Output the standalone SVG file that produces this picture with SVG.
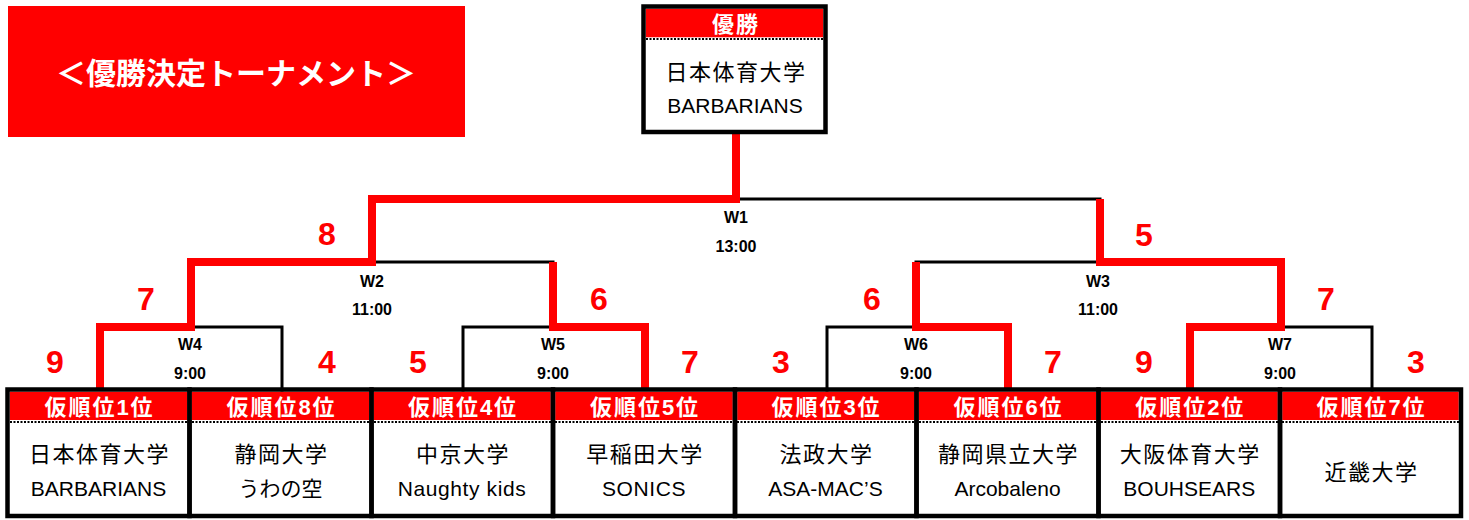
<svg xmlns="http://www.w3.org/2000/svg" width="1469" height="520" viewBox="0 0 1469 520">
<style>
.bg{fill:#ffffff}
.box{fill:none;stroke:#000;stroke-width:4.5}
.hdr{fill:#ff0000}
.dot{stroke:#000;stroke-width:2;stroke-dasharray:2 1.5;fill:none}
.blk{fill:none;stroke:#000;stroke-width:3;stroke-linecap:square}
.red{fill:none;stroke:#ff0000;stroke-width:8;stroke-linejoin:miter;stroke-linecap:butt}
.ht{font-family:"Liberation Sans","Noto Sans CJK JP",sans-serif;font-weight:bold;font-size:22px;fill:#fff;text-anchor:middle;letter-spacing:2px}
.n1{font-family:"Liberation Sans","Noto Sans CJK JP",sans-serif;font-size:22px;fill:#000;text-anchor:middle;letter-spacing:1.5px}
.n2{font-family:"Liberation Sans","Noto Sans CJK JP",sans-serif;font-size:21px;fill:#000;text-anchor:middle}
.wl{font-family:"Liberation Sans","Noto Sans CJK JP",sans-serif;font-weight:bold;font-size:16px;fill:#000;text-anchor:middle}
.sc{font-family:"Liberation Sans",sans-serif;font-weight:bold;font-size:32px;fill:#ff0000;text-anchor:middle}
.title{font-family:"Liberation Sans","Noto Sans CJK JP",sans-serif;font-weight:bold;font-size:30px;fill:#fff;text-anchor:middle}
</style>
<rect class="bg" x="0" y="0" width="1469" height="520"/>

<g id="title">
<rect x="8" y="6" width="457" height="131" fill="#ff0000"/>
<text class="title" x="236" y="84">＜優勝決定トーナメント＞</text>
</g>

<g id="connectors">
<path class="blk" d="M191,327 H282 V390"/>
<path class="blk" d="M372,262 H553"/>
<path class="blk" d="M463,390 V327 H553"/>
<path class="blk" d="M736,199 H1100"/>
<path class="blk" d="M827,390 V327 H916"/>
<path class="blk" d="M916,262 H1100"/>
<path class="blk" d="M1281,327 H1372 V390"/>
<path class="red" d="M100,390 V327 H191 V262 H372 V199 H736 V134"/>
<path class="red" d="M645,390 V327 H553 V262"/>
<path class="red" d="M1008,390 V327 H916 V262"/>
<path class="red" d="M1190,390 V327 H1281 V262 H1100 V199"/>
</g>

<g id="match-labels">
<text class="wl" x="736" y="223">W1</text><text class="wl" x="736" y="252">13:00</text>
<text class="wl" x="372" y="287">W2</text><text class="wl" x="372" y="315">11:00</text>
<text class="wl" x="1098" y="287">W3</text><text class="wl" x="1098" y="315">11:00</text>
<text class="wl" x="190" y="350">W4</text><text class="wl" x="190" y="379">9:00</text>
<text class="wl" x="553" y="350">W5</text><text class="wl" x="553" y="379">9:00</text>
<text class="wl" x="916" y="350">W6</text><text class="wl" x="916" y="379">9:00</text>
<text class="wl" x="1280" y="350">W7</text><text class="wl" x="1280" y="379">9:00</text>
</g>

<g id="scores">
<text class="sc" x="55" y="373">9</text>
<text class="sc" x="327" y="373">4</text>
<text class="sc" x="418" y="373">5</text>
<text class="sc" x="690" y="373">7</text>
<text class="sc" x="781" y="373">3</text>
<text class="sc" x="1053" y="373">7</text>
<text class="sc" x="1144" y="373">9</text>
<text class="sc" x="1416" y="373">3</text>
<text class="sc" x="146" y="310">7</text>
<text class="sc" x="599" y="310">6</text>
<text class="sc" x="872" y="310">6</text>
<text class="sc" x="1326" y="310">7</text>
<text class="sc" x="327" y="245">8</text>
<text class="sc" x="1144" y="246">5</text>
</g>

<g id="champion">
<rect class="hdr" x="645.75" y="8.75" width="177.5" height="28.5"/>
<line class="dot" x1="646" y1="39" x2="823" y2="39"/>
<rect class="box" x="643.5" y="6.5" width="182" height="125.5" fill="none"/>
<text class="ht" x="736" y="32">優勝</text>
<text class="n1" x="736" y="80">日本体育大学</text>
<text class="n2" x="735" y="113">BARBARIANS</text>
</g>

<g id="team1">
<rect class="hdr" x="9.75" y="391.75" width="177.5" height="28.25"/>
<line class="dot" x1="10" y1="422" x2="187" y2="422"/>
<rect class="box" x="7.5" y="389.5" width="182" height="126.5"/>
<text class="ht" x="99.5" y="415">仮順位1位</text>
<text class="n1" x="99.5" y="462">日本体育大学</text>
<text class="n2" x="98.5" y="496">BARBARIANS</text>
</g>
<g id="team2">
<rect class="hdr" x="191.75" y="391.75" width="177.5" height="28.25"/>
<line class="dot" x1="192" y1="422" x2="369" y2="422"/>
<rect class="box" x="189.5" y="389.5" width="182" height="126.5"/>
<text class="ht" x="281.5" y="415">仮順位8位</text>
<text class="n1" x="281.5" y="462">静岡大学</text>
<text class="n2" x="280.5" y="496">うわの空</text>
</g>
<g id="team3">
<rect class="hdr" x="373.75" y="391.75" width="177" height="28.25"/>
<line class="dot" x1="374" y1="422" x2="551" y2="422"/>
<rect class="box" x="371.5" y="389.5" width="181.5" height="126.5"/>
<text class="ht" x="463" y="415">仮順位4位</text>
<text class="n1" x="463" y="462">中京大学</text>
<text class="n2" x="462" y="496" letter-spacing="0.6">Naughty kids</text>
</g>
<g id="team4">
<rect class="hdr" x="555.25" y="391.75" width="177.5" height="28.25"/>
<line class="dot" x1="555" y1="422" x2="733" y2="422"/>
<rect class="box" x="553" y="389.5" width="182" height="126.5"/>
<text class="ht" x="645" y="415">仮順位5位</text>
<text class="n1" x="645" y="462">早稲田大学</text>
<text class="n2" x="644" y="496" letter-spacing="0.6">SONICS</text>
</g>
<g id="team5">
<rect class="hdr" x="737.25" y="391.75" width="177" height="28.25"/>
<line class="dot" x1="737" y1="422" x2="914" y2="422"/>
<rect class="box" x="735" y="389.5" width="181.5" height="126.5"/>
<text class="ht" x="826.5" y="415">仮順位3位</text>
<text class="n1" x="826.5" y="462">法政大学</text>
<text class="n2" x="825.5" y="496">ASA-MAC’S</text>
</g>
<g id="team6">
<rect class="hdr" x="918.75" y="391.75" width="177.5" height="28.25"/>
<line class="dot" x1="919" y1="422" x2="1096" y2="422"/>
<rect class="box" x="916.5" y="389.5" width="182" height="126.5"/>
<text class="ht" x="1008.5" y="415">仮順位6位</text>
<text class="n1" x="1008.5" y="462">静岡県立大学</text>
<text class="n2" x="1007.5" y="496">Arcobaleno</text>
</g>
<g id="team7">
<rect class="hdr" x="1100.75" y="391.75" width="177" height="28.25"/>
<line class="dot" x1="1101" y1="422" x2="1278" y2="422"/>
<rect class="box" x="1098.5" y="389.5" width="181.5" height="126.5"/>
<text class="ht" x="1190.25" y="415">仮順位2位</text>
<text class="n1" x="1190.25" y="462">大阪体育大学</text>
<text class="n2" x="1189.25" y="496">BOUHSEARS</text>
</g>
<g id="team8">
<rect class="hdr" x="1282.25" y="391.75" width="176.5" height="28.25"/>
<line class="dot" x1="1282" y1="422" x2="1459" y2="422"/>
<rect class="box" x="1280" y="389.5" width="181" height="126.5"/>
<text class="ht" x="1371.5" y="415">仮順位7位</text>
<text class="n1" x="1371.5" y="480">近畿大学</text>
</g>
</svg>
